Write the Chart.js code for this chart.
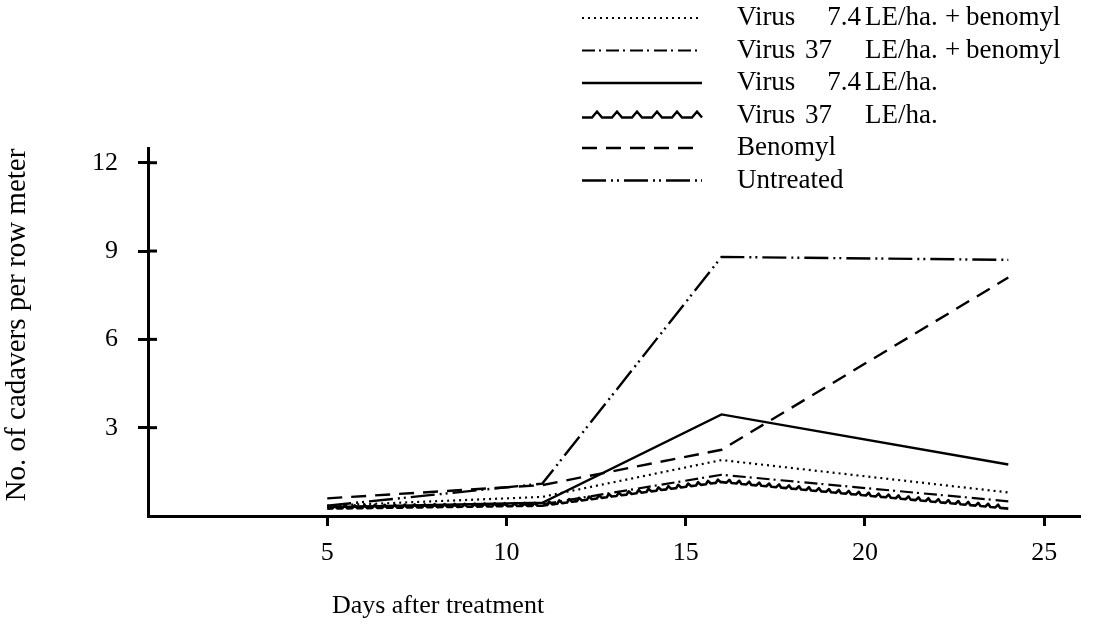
<!doctype html>
<html lang="en">
  <head>
    <meta charset="UTF-8" />
    <meta name="viewport" content="width=device-width, initial-scale=1.0" />
    <title>Cadavers per row meter</title>
    <style>
      html, body { margin: 0; padding: 0; background: #fff; }
      .chart-container { position: relative; width: 1113px; height: 626px; }
    </style>
  </head>
  <body>
    <div class="chart-container">
      <canvas id="cadaversChart"></canvas>
    </div>
    <script src="https://cdn.jsdelivr.net/npm/chart.js"></script>
    <script>
      // days after treatment (sampling dates)
      const days = [5, 11, 16, 24];

      const seriesNames = [
        "Virus 7.4 LE/ha. + benomyl",
        "Virus 37 LE/ha. + benomyl",
        "Virus 7.4 LE/ha.",
        "Virus 37 LE/ha.",
        "Benomyl",
        "Untreated",
      ];

      const virus74Benomyl = [0.35, 0.65, 1.9, 0.8];
      const virus37Benomyl = [0.3, 0.4, 1.4, 0.5];
      const virus74 = [0.3, 0.45, 3.45, 1.75];
      const virus37 = [0.25, 0.35, 1.15, 0.25];
      const benomyl = [0.6, 1.05, 2.25, 8.1];
      const untreated = [0.35, 1.1, 8.8, 8.7];

      const xTicks = [5, 10, 15, 20, 25];
      const yTicks = [3, 6, 9, 12];
      const xTitle = "Days after treatment";
      const yTitle = "No. of cadavers per row meter";

      const serif = '"Liberation Serif", "Times New Roman", serif';
      Chart.defaults.font.family = serif;
      Chart.defaults.color = "#000";

      const toPoints = (vals) => vals.map((v, i) => ({ x: days[i], y: v }));

      function zigzag(ctx, pts, period, amp) {
        ctx.beginPath();
        ctx.moveTo(pts[0].x, pts[0].y);
        for (let i = 1; i < pts.length; i++) {
          const a = pts[i - 1], b = pts[i];
          const dx = b.x - a.x, dy = b.y - a.y;
          const len = Math.hypot(dx, dy);
          const ux = dx / len, uy = dy / len;
          const nx = uy, ny = -ux;
          let s = 0;
          while (s + period <= len) {
            ctx.lineTo(a.x + ux * (s + period * 0.5), a.y + uy * (s + period * 0.5));
            ctx.lineTo(a.x + ux * (s + period * 0.75) + nx * amp, a.y + uy * (s + period * 0.75) + ny * amp);
            ctx.lineTo(a.x + ux * (s + period), a.y + uy * (s + period));
            s += period;
          }
          ctx.lineTo(b.x, b.y);
        }
        ctx.stroke();
      }

      const zigzagLines = {
        id: "zigzagLines",
        afterDatasetsDraw(chart) {
          const ctx = chart.ctx;
          chart.data.datasets.forEach((ds, i) => {
            if (!ds.zigzag) return;
            const pts = chart.getDatasetMeta(i).data.map((p) => ({ x: p.x, y: p.y }));
            ctx.save();
            ctx.strokeStyle = "#000";
            ctx.lineWidth = 2.6;
            ctx.lineJoin = "round";
            zigzag(ctx, pts, 10, 3);
            ctx.restore();
          });
        },
      };

      // inner stubs so the y ticks cross the axis, plus both axis titles
      const axisExtras = {
        id: "axisExtras",
        afterDraw(chart) {
          const ctx = chart.ctx;
          const y = chart.scales.y;
          ctx.save();
          ctx.strokeStyle = "#000";
          ctx.lineWidth = 3;
          yTicks.forEach((v) => {
            const py = y.getPixelForValue(v);
            ctx.beginPath();
            ctx.moveTo(y.right, py);
            ctx.lineTo(y.right + 9, py);
            ctx.stroke();
          });
          ctx.fillStyle = "#000";
          ctx.textAlign = "center";
          ctx.textBaseline = "middle";
          ctx.font = "26px " + serif;
          ctx.fillText(xTitle, 438, 606);
          ctx.translate(17, 325);
          ctx.rotate(-Math.PI / 2);
          ctx.font = "29px " + serif;
          ctx.fillText(yTitle, 0, 0);
          ctx.restore();
        },
      };

      const sideLegend = {
        id: "sideLegend",
        afterDraw(chart) {
          const ctx = chart.ctx;
          ctx.save();
          ctx.font = "27px " + serif;
          ctx.fillStyle = "#000";
          ctx.textBaseline = "middle";
          chart.data.datasets.forEach((ds, i) => {
            const y = 18 + i * 32.5;
            ctx.strokeStyle = "#000";
            if (ds.zigzag) {
              ctx.lineWidth = 2.4;
              ctx.setLineDash([]);
              zigzag(ctx, [{ x: 582, y: y + 2 }, { x: 702, y: y + 2 }], 20, 6);
            } else {
              ctx.lineWidth = ds.borderWidth;
              ctx.setLineDash(ds.borderDash || []);
              ctx.beginPath();
              ctx.moveTo(582, y);
              ctx.lineTo(702, y);
              ctx.stroke();
            }
            ctx.setLineDash([]);
            const parts = ds.label.split(" ");
            ctx.textAlign = "left";
            ctx.fillText(parts[0], 737, y);
            if (parts.length > 1) {
              if (parts[1] === "7.4") {
                ctx.textAlign = "right";
                ctx.fillText(parts[1], 861, y);
              } else {
                ctx.fillText(parts[1], 805, y);
              }
              ctx.textAlign = "left";
              ctx.fillText(parts[2], 865, y);
              if (parts.length > 3) {
                ctx.fillText(parts[3], 945, y);
                ctx.fillText(parts.slice(4).join(" "), 966, y);
              }
            }
          });
          ctx.restore();
        },
      };

      const ctx = document.getElementById("cadaversChart").getContext("2d");
      const chart = new Chart(ctx, {
        type: "line",
        data: {
          datasets: [
            { label: seriesNames[0], data: toPoints(virus74Benomyl), borderDash: [2, 4], borderWidth: 2.2 },
            { label: seriesNames[1], data: toPoints(virus37Benomyl), borderDash: [13, 4, 2, 5], borderWidth: 2.2 },
            { label: seriesNames[2], data: toPoints(virus74), borderDash: [], borderWidth: 2.4 },
            { label: seriesNames[3], data: toPoints(virus37), borderColor: "rgba(0,0,0,0)", borderWidth: 2.4, zigzag: true },
            { label: seriesNames[4], data: toPoints(benomyl), borderDash: [15, 9], borderWidth: 2.4 },
            { label: seriesNames[5], data: toPoints(untreated), borderDash: [24, 5, 2, 4, 2, 5], borderWidth: 2.4 },
          ].map((d) => Object.assign({ borderColor: "#000", pointRadius: 0, fill: false, tension: 0 }, d)),
        },
        options: {
          animation: false,
          responsive: true,
          maintainAspectRatio: false,
          layout: { padding: { top: 148, right: 33, left: 0, bottom: 0 } },
          plugins: {
            legend: { display: false },
            tooltip: { enabled: false },
          },
          scales: {
            x: {
              type: "linear",
              min: 0,
              max: 26,
              afterBuildTicks: (s) => { s.ticks = xTicks.map((v) => ({ value: v })); },
              afterFit: (s) => { s.height = 110; },
              grid: { drawOnChartArea: false, drawTicks: true, tickLength: 10, tickWidth: 3, color: "#000" },
              border: { display: true, width: 3, color: "#000" },
              ticks: { font: { size: 26 }, padding: 12, maxRotation: 0 },
              title: { display: false },
            },
            y: {
              min: 0,
              max: 12.5,
              afterBuildTicks: (s) => { s.ticks = yTicks.map((v) => ({ value: v })); },
              afterFit: (s) => { s.width = 148; },
              grid: { drawOnChartArea: false, drawTicks: true, tickLength: 10, tickWidth: 3, color: "#000" },
              border: { display: true, width: 3, color: "#000" },
              ticks: { font: { size: 26 }, padding: 20 },
              title: { display: false },
            },
          },
        },
        plugins: [zigzagLines, axisExtras, sideLegend],
      });
    </script>
  </body>
</html>
